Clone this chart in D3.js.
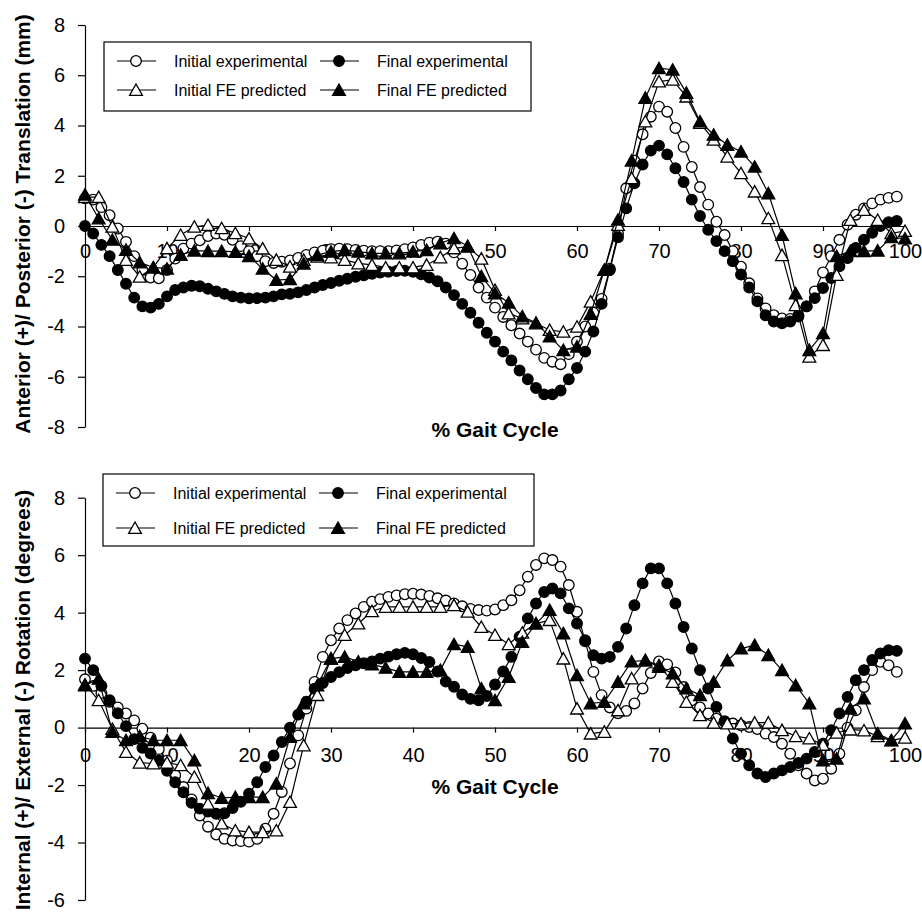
<!DOCTYPE html>
<html>
<head>
<meta charset="utf-8">
<script src="https://cdn.jsdelivr.net/npm/d3@7"></script>
<style>
  body { margin: 0; background: #fff; }
  text { font-family: "Liberation Sans", Arial, sans-serif; fill: #000; }
</style>
</head>
<body>
<script>
"use strict";

// Experimental curves are sampled every 1 % of gait, FE predictions every 1/60 of the cycle.
const expX = d3.range(0, 100);
const feX = d3.range(0, 61).map(i => i * 100 / 60);
const xTicks = d3.range(0, 101, 10);
const topYTicks = d3.range(-8, 9, 2);
const bottomYTicks = d3.range(-6, 9, 2);

// Anterior / posterior translation (mm)
const apInitialExp = [
  1.1, 1.05, 0.75, 0.43, -0.1, -0.63, -1.2, -1.75, -2.05, -2.08,
  -1.75, -1.3, -0.9, -0.7, -0.57, -0.4, -0.3, -0.35, -0.55, -0.8,
  -1.0, -1.2, -1.4, -1.47, -1.42, -1.37, -1.27, -1.15, -1.05, -0.98,
  -0.92, -0.9, -0.92, -0.95, -0.98, -1.0, -1.0, -1.0, -0.97, -0.92,
  -0.85, -0.75, -0.66, -0.62, -0.7, -1.05, -1.5, -1.95, -2.45, -2.85,
  -3.25, -3.62, -3.95, -4.28, -4.6, -4.92, -5.25, -5.4, -5.5, -5.1,
  -4.6, -4.0, -3.45, -2.9, -1.7, -0.3, 1.5, 2.6, 3.65, 4.35,
  4.75, 4.55, 3.9, 3.15, 2.35, 1.55, 0.85, 0.17, -0.36, -1.0,
  -1.62, -2.28, -2.88, -3.28, -3.55, -3.68, -3.7, -3.55, -3.2, -2.6,
  -1.85, -1.2, -0.55, 0.05, 0.45, 0.7, 0.9, 1.05, 1.12, 1.17
];
const apFinalExp = [
  0, -0.3, -0.75, -1.2, -1.75, -2.3, -2.85, -3.2, -3.25, -3.1,
  -2.8, -2.55, -2.45, -2.38, -2.4, -2.5, -2.6, -2.7, -2.8, -2.85,
  -2.88, -2.87, -2.85, -2.8, -2.72, -2.7, -2.64, -2.55, -2.45, -2.35,
  -2.27, -2.18, -2.1, -2.02, -1.96, -1.9, -1.85, -1.82, -1.79, -1.78,
  -1.82, -1.92, -2.05, -2.2, -2.45, -2.75, -3.1, -3.45, -3.85, -4.25,
  -4.6, -5.0, -5.35, -5.75, -6.1, -6.45, -6.7, -6.7, -6.55, -6.1,
  -5.65, -5.0, -4.2, -3.1, -1.75, -0.45, 0.7, 1.7, 2.45, 3.0,
  3.2, 2.85, 2.3, 1.75, 1.05, 0.4, -0.15, -0.6, -1.0, -1.4,
  -1.93, -2.45, -3.0, -3.55, -3.8, -3.87, -3.8, -3.6, -3.2, -2.87,
  -2.47, -2.07, -1.6, -1.28, -0.87, -0.55, -0.27, 0, 0.15, 0.2
];
const apInitialFE = [
  1.15, 1.15, -0.03, -1.35, -2.02, -1.65, -0.89, -0.36, -0.03, 0.04,
  -0.09, -0.29, -0.5, -0.9, -1.35, -1.62, -1.35, -1.22, -1.25, -1.35,
  -1.49, -1.55, -1.65, -1.65, -1.65, -1.55, -1.25, -0.89, -0.82, -1.3,
  -2.55, -3.48, -3.68, -3.88, -4.14, -4.21, -4.01, -3.01, -1.75, 0.04,
  1.9, 4.16, 5.75, 5.82, 5.15, 4.1, 3.43, 2.76, 2.1, 1.37,
  0.31, -1.16, -3.15, -5.2, -4.74, -1.95, 0.24, 0.64, 0.24, -0.29, -0.2
];
const apFinalFE = [
  1.25, 0.3, -0.55, -0.95, -1.45, -1.65, -1.7, -1.15, -0.98, -1.0,
  -1.0, -1.03, -1.2, -1.7, -2.15, -2.12, -1.5, -1.16, -1.02, -0.96,
  -1.02, -1.09, -1.09, -1.09, -1.02, -0.96, -0.69, -0.49, -0.8, -2.0,
  -2.68, -3.05, -3.6, -3.85, -4.4, -4.94, -4.8, -3.5, -1.75, 0.25,
  2.6, 5.1, 6.28, 6.22, 5.3, 4.16, 3.63, 3.23, 2.96, 2.36,
  1.3, -0.36, -2.68, -4.94, -4.27, -1.2, -1.0, -1.0, -0.98, -0.45, -0.5
];

// Internal / external rotation (degrees)
const ieInitialExp = [
  1.68, 1.45, 1.2, 0.9, 0.7, 0.49, 0.25, -0.04, -0.35, -0.75,
  -1.15, -1.66, -2.07, -2.5, -3.06, -3.45, -3.72, -3.87, -3.93, -3.95,
  -3.97, -3.87, -3.52, -3.0, -2.24, -1.25, -0.27, 0.66, 1.59, 2.46,
  3.04, 3.45, 3.74, 3.97, 4.2, 4.38, 4.47, 4.55, 4.6, 4.64,
  4.66, 4.63, 4.58, 4.5, 4.42, 4.32, 4.22, 4.13, 4.09, 4.07,
  4.11, 4.26, 4.43, 4.78, 5.25, 5.66, 5.89, 5.83, 5.6, 4.96,
  4.03, 3.0, 1.94, 1.13, 0.7, 0.5, 0.58, 0.84, 1.36, 1.9,
  2.3, 2.2, 1.92, 1.41, 0.95, 0.7, 0.49, 0.31, 0.2, 0.14,
  0.08, 0.02, -0.05, -0.21, -0.33, -0.56, -0.91, -1.31, -1.6, -1.84,
  -1.78, -1.43, -0.91, 0.0, 0.6, 1.41, 2.0, 2.29, 2.17, 1.94
];
const ieFinalExp = [
  2.4, 2.0, 1.45, 0.95, 0.5, 0.05, -0.4, -0.7, -0.9, -1.15,
  -1.5, -1.9, -2.25, -2.62, -2.82, -2.92, -3.0, -2.98, -2.8, -2.58,
  -2.3, -1.9, -1.37, -0.97, -0.5, 0.0, 0.45, 0.9, 1.35, 1.55,
  1.76, 1.93, 2.07, 2.17, 2.24, 2.3, 2.4, 2.47, 2.55, 2.6,
  2.55, 2.42, 2.28, 1.95, 1.6, 1.42, 1.15, 1.0, 0.95, 1.1,
  1.5, 1.95, 2.46, 3.16, 3.8, 4.32, 4.72, 4.84, 4.67, 4.15,
  3.62, 3.04, 2.52, 2.4, 2.46, 2.81, 3.45, 4.26, 5.02, 5.54,
  5.54, 5.02, 4.32, 3.5, 2.75, 2.0, 1.36, 0.72, 0.22, -0.38,
  -0.91, -1.31, -1.6, -1.72, -1.6, -1.49, -1.37, -1.23, -1.08, -0.85,
  -0.56, -0.09, 0.49, 1.07, 1.65, 2.0, 2.35, 2.58, 2.69, 2.67
];
const ieInitialFE = [
  1.5, 0.95, -0.05, -0.85, -1.22, -1.25, -1.22, -1.31, -1.72, -2.65,
  -3.34, -3.58, -3.64, -3.64, -3.58, -2.59, -0.62, 1.13, 2.4, 3.22,
  3.62, 4.05, 4.2, 4.2, 4.2, 4.2, 4.2, 4.26, 4.03, 3.5,
  3.22, 2.9, 3.3, 3.62, 3.74, 2.4, 0.66, -0.21, -0.15, 0.6,
  1.71, 2.34, 2.17, 1.59, 0.89, 0.43, 0.17, 0.14, 0.14, 0.17,
  0.17, -0.09, -0.3, -0.38, -0.6, -0.18, -0.07, -0.1, -0.3, -0.45, -0.35
];
const ieFinalFE = [
  1.47, 1.7, -0.15, -0.44, -0.3, -0.44, -0.44, -0.44, -1.14, -2.28,
  -2.45, -2.42, -2.42, -2.42, -1.95, -0.33, 0.84, 1.47, 2.4, 2.46,
  2.3, 2.2, 2.08, 1.94, 1.94, 1.94, 2.0, 2.9, 2.81, 1.36,
  0.95, 1.76, 2.98, 3.62, 4.09, 3.28, 1.82, 0.84, 0.89, 1.59,
  2.3, 2.34, 2.11, 1.88, 1.36, 1.13, 1.59, 2.34, 2.75, 2.87,
  2.52, 2.0, 1.47, 0.84, -1.14, -1.08, 0.66, 1.01, -0.21, -0.44, 0.14
];

const seriesNames = ["Initial experimental", "Final experimental", "Initial FE predicted", "Final FE predicted"];

const width = 922;
const height = 914;

const svg = d3.select("body")
  .append("svg")
    .attr("width", width)
    .attr("height", height);

const x = d3.scaleLinear().domain([0, 100]).range([85, 905]);

const panels = [
  {
    title: "Anterior (+)/ Posterior (-) Translation (mm)",
    y: d3.scaleLinear().domain([-8, 8]).range([427, 25]),
    yTicks: topYTicks,
    values: [apInitialExp, apFinalExp, apInitialFE, apFinalFE],
    legend: { x: 104, y: 42, w: 427, h: 69, rows: [61, 90] },
    xLabelY: 437,
    tickPad: 13,
    titleY: 224,
  },
  {
    title: "Internal (+)/ External (-) Rotation (degrees)",
    y: d3.scaleLinear().domain([-6, 8]).range([900, 497.7]),
    yTicks: bottomYTicks,
    values: [ieInitialExp, ieFinalExp, ieInitialFE, ieFinalFE],
    legend: { x: 103, y: 474, w: 431, h: 72, rows: [493, 528] },
    xLabelY: 794,
    tickPad: 15,
    titleY: 700,
  },
];

// marker look per series: open/filled circle, open/filled triangle
const markerStyle = [
  { shape: "circle", fill: "#fff" },
  { shape: "circle", fill: "#000" },
  { shape: "triangle", fill: "#fff" },
  { shape: "triangle", fill: "#000" },
];

function drawMarker(g, shape, fill, cx, cy) {
  if (shape === "circle") {
    g.append("circle")
      .attr("cx", cx)
      .attr("cy", cy)
      .attr("r", 5.3)
      .attr("fill", fill)
      .attr("stroke", "#000")
      .attr("stroke-width", 1.3);
  } else {
    g.append("path")
      .attr("d", "M0,-6L6.4,5.4L-6.4,5.4Z")
      .attr("transform", `translate(${cx},${cy})`)
      .attr("fill", fill)
      .attr("stroke", "#000")
      .attr("stroke-width", 1.3)
      .attr("stroke-linejoin", "miter");
  }
}

const plainNum = d => String(d);  // hyphen minus like the original, not the unicode one

for (const p of panels) {
  const g = svg.append("g");
  const y = p.y;

  // y axis
  const yAxis = g.append("g")
    .attr("transform", `translate(${x(0)},0)`)
    .call(d3.axisLeft(y).tickValues(p.yTicks).tickSize(7).tickSizeOuter(0).tickPadding(13).tickFormat(plainNum));
  yAxis.selectAll("text").attr("font-size", 20).style("font-family", '"Liberation Sans", Arial, sans-serif');

  // x axis at y = 0
  const xAxis = g.append("g")
    .attr("transform", `translate(0,${y(0)})`)
    .call(d3.axisBottom(x).tickValues(xTicks).tickSize(5).tickSizeOuter(0).tickPadding(p.tickPad).tickFormat(plainNum));
  xAxis.selectAll("text").attr("font-size", 20).style("font-family", '"Liberation Sans", Arial, sans-serif');

  g.selectAll(".domain, .tick line").attr("stroke", "#000").attr("stroke-width", 1.2);

  // titles
  g.append("text")
    .attr("transform", `translate(30,${p.titleY}) rotate(-90)`)
    .attr("text-anchor", "middle")
    .attr("font-size", 21)
    .attr("font-weight", "bold")
    .text(p.title);

  g.append("text")
    .attr("x", 495)
    .attr("y", p.xLabelY)
    .attr("text-anchor", "middle")
    .attr("font-size", 21)
    .attr("font-weight", "bold")
    .text("% Gait Cycle");

  // series
  p.values.forEach((vals, si) => {
    const xs = si < 2 ? expX : feX;
    const pts = vals.map((v, i) => [xs[i], v]);
    const line = d3.line().x(d => x(d[0])).y(d => y(d[1]));
    const sg = g.append("g");
    sg.append("path")
      .attr("d", line(pts))
      .attr("fill", "none")
      .attr("stroke", "#000")
      .attr("stroke-width", 1.2);
    for (const d of pts) {
      drawMarker(sg, markerStyle[si].shape, markerStyle[si].fill, x(d[0]), y(d[1]));
    }
  });

  // legend
  const L = p.legend;
  const lg = g.append("g");
  lg.append("rect")
    .attr("x", L.x)
    .attr("y", L.y)
    .attr("width", L.w)
    .attr("height", L.h)
    .attr("fill", "#fff")
    .attr("stroke", "#000")
    .attr("stroke-width", 1.2);

  // column 1: initial series, column 2: final series
  const slots = [
    { si: 0, col: 0, row: 0 },
    { si: 1, col: 1, row: 0 },
    { si: 2, col: 0, row: 1 },
    { si: 3, col: 1, row: 1 },
  ];
  const colOffset = [0, 203];
  for (const s of slots) {
    const ox = L.x + colOffset[s.col];
    const cy = L.rows[s.row];
    lg.append("line")
      .attr("x1", ox + 13)
      .attr("x2", ox + 52)
      .attr("y1", cy)
      .attr("y2", cy)
      .attr("stroke", "#000")
      .attr("stroke-width", 1.2);
    drawMarker(lg, markerStyle[s.si].shape, markerStyle[s.si].fill, ox + 32, cy);
    lg.append("text")
      .attr("x", ox + 70)
      .attr("y", cy)
      .attr("dy", "0.36em")
      .attr("font-size", 16)
      .text(seriesNames[s.si]);
  }
}
</script>
</body>
</html>
